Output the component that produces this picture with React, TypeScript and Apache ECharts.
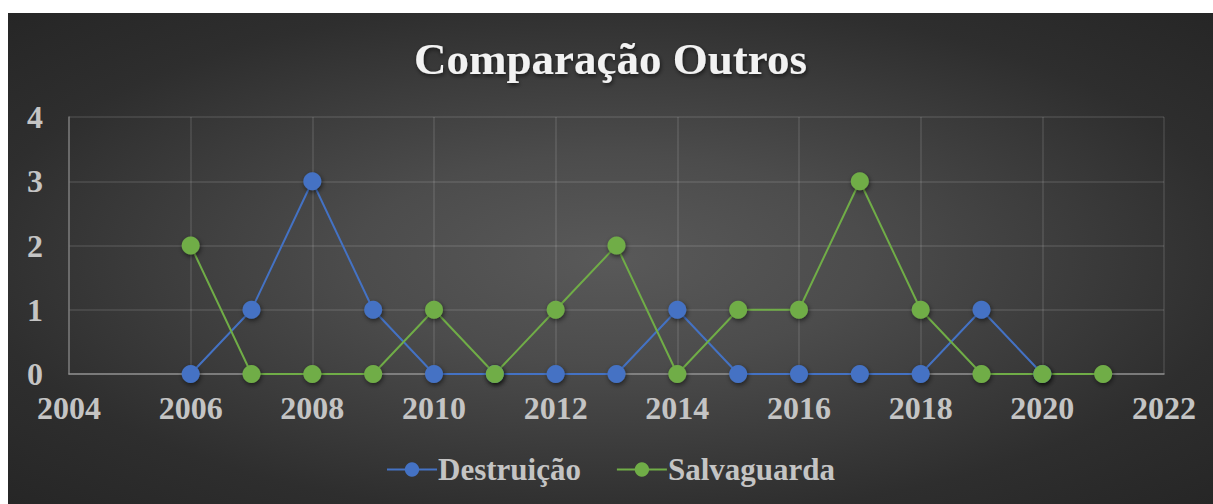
import React, { useEffect, useRef } from "react";
import * as echarts from "echarts";

const TITLE = "Comparação Outros";
const SERIES_NAMES = ["Destruição", "Salvaguarda"];
const destruicaoYears = [2006, 2007, 2008, 2009, 2010, 2011, 2012, 2013, 2014, 2015, 2016, 2017, 2018, 2019, 2020];
const destruicaoValues = [0, 1, 3, 1, 0, 0, 0, 0, 1, 0, 0, 0, 0, 1, 0];
const salvaguardaYears = [2006, 2007, 2008, 2009, 2010, 2011, 2012, 2013, 2014, 2015, 2016, 2017, 2018, 2019, 2020, 2021];
const salvaguardaValues = [2, 0, 0, 0, 1, 0, 1, 2, 0, 1, 1, 3, 1, 0, 0, 0];
const X_MIN = 2004;
const X_MAX = 2022;
const X_STEP = 2;
const Y_MIN = 0;
const Y_MAX = 4;
const Y_STEP = 1;

const FONT = "'Liberation Serif', 'Times New Roman', serif";
const LABEL_COLOR = "#c4c4c4";
const BLUE = "#4472C4";
const GREEN = "#70AD47";

export default function App() {
  const ref = useRef<HTMLDivElement>(null);
  useEffect(() => {
    if (!ref.current) return;
    const chart = echarts.init(ref.current, null, { renderer: "svg" });
    const mk = (name: string, years: number[], vals: number[], color: string) => ({
      name,
      type: "line",
      data: years.map((y, i) => [y, vals[i]]),
      symbol: "circle",
      symbolSize: 18,
      lineStyle: { color, width: 2 },
      itemStyle: {
        color,
        shadowColor: "rgba(0,0,0,0.55)",
        shadowBlur: 5,
        shadowOffsetX: 1,
        shadowOffsetY: 2,
      },
      emphasis: { disabled: true },
    });
    chart.setOption({
      animation: false,
      backgroundColor: "transparent",
      title: {
        text: TITLE,
        left: "center",
        top: 18,
        textStyle: {
          fontFamily: FONT,
          fontWeight: "bold",
          fontSize: 45,
          color: "#f2f2f2",
          textShadowColor: "rgba(0,0,0,0.6)",
          textShadowBlur: 4,
          textShadowOffsetX: 1,
          textShadowOffsetY: 2,
        },
      },
      legend: {
        data: SERIES_NAMES,
        bottom: 14,
        left: "center",
        itemWidth: 50,
        itemHeight: 18,
        itemGap: 35,
        textStyle: {
          fontFamily: FONT,
          fontWeight: "bold",
          fontSize: 31,
          color: LABEL_COLOR,
          padding: [0, 0, 0, -4],
        },
      },
      grid: { left: 61, right: 49, top: 104, bottom: 130, containLabel: false },
      xAxis: {
        type: "value",
        min: X_MIN,
        max: X_MAX,
        interval: X_STEP,
        axisLine: { show: true, onZero: false, lineStyle: { color: "#8c8c8c", width: 1.5 } },
        axisTick: { show: false },
        splitLine: { show: true, lineStyle: { color: "rgba(255,255,255,0.13)", width: 1.5 } },
        axisLabel: {
          fontFamily: FONT,
          fontWeight: "bold",
          fontSize: 32,
          color: LABEL_COLOR,
          margin: 18,
          formatter: (v: number) => String(v),
        },
      },
      yAxis: {
        type: "value",
        min: Y_MIN,
        max: Y_MAX,
        interval: Y_STEP,
        axisLine: { show: true, lineStyle: { color: "#777777", width: 1.5 } },
        axisTick: { show: false },
        splitLine: { show: true, lineStyle: { color: "rgba(255,255,255,0.13)", width: 1.5 } },
        axisLabel: {
          fontFamily: FONT,
          fontWeight: "bold",
          fontSize: 32,
          color: LABEL_COLOR,
          margin: 26,
        },
      },
      series: [
        mk(SERIES_NAMES[0], destruicaoYears, destruicaoValues, BLUE),
        mk(SERIES_NAMES[1], salvaguardaYears, salvaguardaValues, GREEN),
      ],
    });
    return () => chart.dispose();
  }, []);
  return (
    <div
      ref={ref}
      style={{
        position: "absolute",
        left: 8,
        top: 13,
        width: 1205,
        height: 491,
        background:
          "radial-gradient(ellipse farthest-corner at 50% 50%, #595959 0%, #4c4c4c 30%, #2e2e2e 75%, #262626 100%)",
      }}
    />
  );
}
